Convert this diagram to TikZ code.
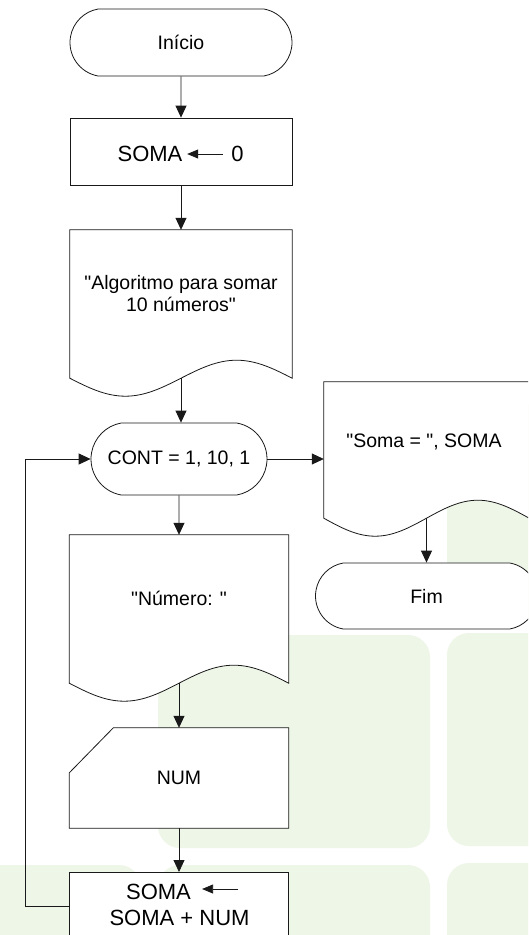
\documentclass[tikz,border=0pt]{standalone}
\usepackage{fontspec}
\setmainfont{Liberation Sans}[Ligatures=TeXOff]
\usetikzlibrary{arrows.meta,shapes.misc,calc}
\definecolor{tilegreen}{RGB}{238,246,232}
\definecolor{ink}{RGB}{25,25,25}

% outline of a document symbol (wavy bottom) over an empty frame node
\newcommand\wavedoc[1]{%
  \filldraw[outline] (#1.south west) -- (#1.north west) -- (#1.north east) -- (#1.south east)
    sin ($(#1.south)!0.5!(#1.south east)+(0,-18)$) cos (#1.south)
    sin ($(#1.south)!0.5!(#1.south west)+(0,18)$) cos (#1.south west) -- cycle;}

\begin{document}
\begin{tikzpicture}[x=1pt,y=-1pt,
  every node/.style={inner sep=0pt, align=center, font=\fontsize{19.5}{22}\selectfont},
  big/.style={font=\fontsize{22}{26}\selectfont},
  outline/.style={draw=ink, line width=0.8pt, fill=white},
  conn/.style={draw=ink, line width=0.8pt, -{Triangle[length=12pt,width=11pt]}},
  assign/.style={draw=ink, line width=0.8pt, -{Triangle[length=11pt,width=9pt]}},
  terminal/.style={outline, rounded rectangle, rounded rectangle arc length=160,
                   minimum width=222pt, minimum height=67pt},
  tile/.style={fill=tilegreen, rounded corners=22pt}]

\clip (0,0) rectangle (528,935);
\fill[white] (0,0) rectangle (528,935);

% faint tiles in the background
\fill[tile] (447,405) rectangle (720,618);
\fill[tile] (158,635) rectangle (430,848);
\fill[tile] (447,633) rectangle (720,846);
\fill[tile] (-120,865) rectangle (141,1080);
\fill[tile] (158,865) rectangle (430,1080);
\fill[tile] (447,863) rectangle (720,1080);

% start
\node[terminal] (inicio) at (181,42.5) {Início};

% SOMA <- 0
\node[outline, minimum width=222pt, minimum height=67pt] (init) at (181,151.5) {};
\node[big] (initvar) at (150,154) {SOMA};
\node[big] (initval) at (237.5,154) {0};
\draw[assign, shorten <=8.4pt, shorten >=4.6pt] (initval) -- (initvar);

% title output
\node[minimum width=222pt, minimum height=148pt] (intro) at (181,304) {};
\wavedoc{intro}
\node (introtext) at (181,294) {"Algoritmo para somar\\10 números"};

% loop header
\node[terminal, minimum width=176pt, minimum height=72pt] (loop) at (179,459) {CONT = 1, 10, 1};

% prompt output
\node[minimum width=219pt, minimum height=148pt] (ask) at (179,609) {};
\wavedoc{ask}
\node (asktext) at (179,598) {"Número: "};

% manual input
\node[minimum width=219pt, minimum height=100pt] (read) at (179,778) {};
\filldraw[outline] ($(read.north west)+(44,0)$) -- (read.north east) -- (read.south east)
  -- (read.south west) -- ($(read.north west)+(0,45)$) -- cycle;
\node (readtext) at (read) {NUM};

% accumulation
\node[outline, minimum width=219pt, minimum height=90pt, anchor=north] (acc) at (179,872) {};
\node[big] (accvar) at (158.5,892) {SOMA};
\node[big] (accexpr) at (179.5,918) {SOMA + NUM};
\coordinate (acctail) at (238,889);
\draw[assign, shorten >=11pt] (acctail) -- (acctail -| accvar.east);

% result output and end
\node[minimum width=205pt, minimum height=136pt] (show) at (426.5,450) {};
\wavedoc{show}
\node (showtext) at (424,442) {"Soma = ", SOMA};
\node[terminal, minimum height=66pt] (fim) at (426.5,596) {Fim};

% connectors
\draw[conn] (inicio) -- (init);
\draw[conn] (init) -- (intro.north);
\draw[conn] (intro.south) -- (intro.south |- loop.north);
\draw[conn] (loop) -- (ask.north);
\draw[conn] (ask.south) -- (read);
\draw[conn] (read) -- (acc);
\draw[conn] (loop.east) -- (loop.east -| show.west);
\draw[conn] (show.south) -- (show.south |- fim.north);
\draw[conn] ($(acc.north west)+(0,34)$) -- ++(-44,0) |- (loop.west);
\end{tikzpicture}
\end{document}
